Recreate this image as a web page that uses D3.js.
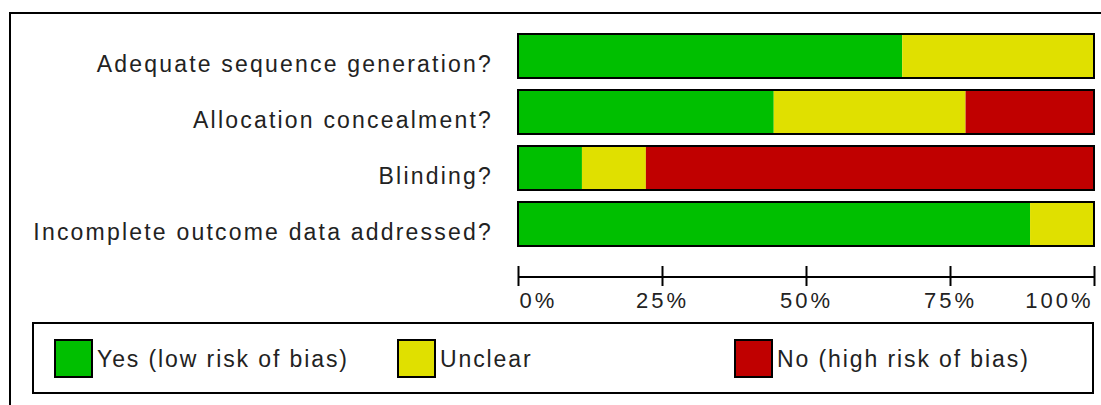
<!DOCTYPE html>
<html>
<head>
<meta charset="utf-8">
<script src="https://cdn.jsdelivr.net/npm/d3@7"></script>
<style>
  html, body { margin: 0; padding: 0; background: #fff; }
  svg { display: block; }
  text { font-family: "Liberation Sans", Arial, sans-serif; fill: #222; }
</style>
</head>
<body>
<svg id="chart" width="1101" height="405"></svg>
<script>
// ---- data ----
const categories = [
  "Adequate sequence generation?",
  "Allocation concealment?",
  "Blinding?",
  "Incomplete outcome data addressed?"
];
const seriesNames = ["Yes (low risk of bias)", "Unclear", "No (high risk of bias)"];
const yesValues     = [66.7, 44.4, 11.1, 88.9];
const unclearValues = [33.3, 33.3, 11.1, 11.1];
const noValues      = [0.0, 22.2, 77.8, 0.0];
const tickValues = [0, 25, 50, 75, 100];
const tickLabels = ["0%", "25%", "50%", "75%", "100%"];
const colors = ["#00BF00", "#E0E000", "#C00000"];

// ---- layout ----
const svg = d3.select("#chart");

// outer frame (cropped on right and bottom)
svg.append("rect")
  .attr("x", 10).attr("y", 13)
  .attr("width", 1120).attr("height", 420)
  .attr("fill", "none").attr("stroke", "#000").attr("stroke-width", 2);

const x = d3.scaleLinear().domain([0, 100]).range([518, 1094]);
const pad = 12 / 56;
const y = d3.scaleBand().domain(categories).range([28, 252])
  .paddingInner(pad).paddingOuter(pad / 2);

const rows = categories.map((c, i) => {
  const vals = [yesValues[i], unclearValues[i], noValues[i]];
  let acc = 0;
  return {
    cat: c,
    segs: vals.map((v, k) => { const s = { x0: acc, x1: acc + v, k }; acc += v; return s; })
  };
});

const rowG = svg.append("g").selectAll("g").data(rows).join("g");
rowG.selectAll("rect.seg").data(d => d.segs.map(s => ({ ...s, cat: d.cat })))
  .join("rect").attr("class", "seg")
  .attr("x", d => x(d.x0))
  .attr("width", d => Math.max(0, x(d.x1) - x(d.x0)))
  .attr("y", d => y(d.cat))
  .attr("height", y.bandwidth())
  .attr("fill", d => colors[d.k]);
rowG.append("rect")
  .attr("x", x(0)).attr("width", x(100) - x(0))
  .attr("y", d => y(d.cat)).attr("height", y.bandwidth())
  .attr("fill", "none").attr("stroke", "#000").attr("stroke-width", 2);

// category labels
svg.append("g").selectAll("text").data(categories).join("text")
  .attr("x", 493)
  .attr("y", d => y(d) + y.bandwidth() - 6)
  .attr("text-anchor", "end")
  .attr("font-size", 23)
  .attr("letter-spacing", 2.2)
  .text(d => d);

// axis
const axisY = 277;
const axis = d3.axisBottom(x).tickValues(tickValues).tickSize(0)
  .tickFormat((d, i) => tickLabels[i]);
const ag = svg.append("g").attr("transform", `translate(0,${axisY})`).call(axis);
ag.select(".domain").attr("stroke", "#000").attr("stroke-width", 2).attr("d", `M${x(0)},0H${x(100)}`);
ag.selectAll(".tick line").attr("y1", -11).attr("y2", 9).attr("stroke", "#000").attr("stroke-width", 2);
ag.selectAll(".tick text")
  .attr("y", 31).attr("dy", null)
  .attr("font-size", 22)
  .attr("letter-spacing", 3)
  .attr("fill", "#222")
  .style("font-family", '"Liberation Sans", Arial, sans-serif')
  .attr("text-anchor", (d, i) => i === 0 ? "start" : (i === tickValues.length - 1 ? "end" : "middle"))
  .attr("dx", (d, i) => i === 0 ? 1 : (i === tickValues.length - 1 ? -1 : 0));

// legend
const lg = svg.append("g");
lg.append("rect").attr("x", 33).attr("y", 323).attr("width", 1060).attr("height", 70)
  .attr("fill", "none").attr("stroke", "#000").attr("stroke-width", 2);
const legendX = [55, 398, 735];
const items = lg.selectAll("g.item").data(seriesNames).join("g").attr("class", "item")
  .attr("transform", (d, i) => `translate(${legendX[i]},340)`);
items.append("rect").attr("width", 37).attr("height", 37)
  .attr("fill", (d, i) => colors[i]).attr("stroke", "#000").attr("stroke-width", 2);
items.append("text").attr("x", 42).attr("y", 27)
  .attr("font-size", 23).attr("letter-spacing", 1.9)
  .text(d => d);
</script>
</body>
</html>
